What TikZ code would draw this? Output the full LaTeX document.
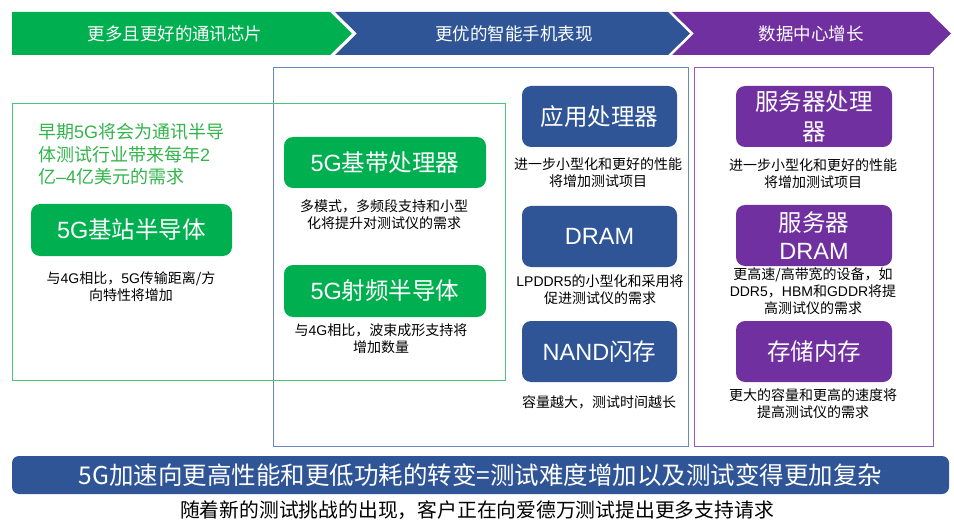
\documentclass[tikz,border=0pt]{standalone}
\usepackage{fontspec}
\setmainfont{Noto Sans CJK SC}
\newfontfamily\latfont{Liberation Sans}
\newcommand{\lt}[1]{{\latfont #1}}
\definecolor{gfill}{RGB}{0,176,80}
\definecolor{bfill}{RGB}{47,85,151}
\definecolor{pfill}{RGB}{112,48,160}
\definecolor{gline}{RGB}{70,200,120}
\definecolor{bline}{RGB}{105,135,195}
\definecolor{pline}{RGB}{145,90,195}
\definecolor{gtext}{RGB}{50,180,75}
\tikzset{
  banner/.style={fill=#1, draw=none},
  bannertext/.style={text=white, font=\fontsize{17.5}{20}\selectfont, inner sep=0pt},
  tile/.style={fill=#1, draw=none, rounded corners=9pt, text=white, minimum width=156pt, inner sep=0pt, align=center, font=\fontsize{23.5}{30}\selectfont},
  note/.style={text=black, align=center, inner sep=0pt, font=\fontsize{14}{17}\selectfont},
  frame/.style={draw=#1, line width=0.8pt},
}
\begin{document}
\begin{tikzpicture}[x=1pt,y=-1pt]
\useasboundingbox (0,0) rectangle (954,524);
% top chevrons
\path[banner=gfill] (12,12) -- (330,12) -- (352,33.5) -- (330,55) -- (12,55) -- cycle;
\path[banner=bfill] (335,12) -- (668,12) -- (690,33.5) -- (668,55) -- (335,55) -- (357,33.5) -- cycle;
\path[banner=pfill] (672,12) -- (929,12) -- (951,33.5) -- (929,55) -- (672,55) -- (694,33.5) -- cycle;
\node[bannertext] (h1) at (175,33.5) {更多且更好的通讯芯片};
\node[bannertext] (h2) at (514,33.5) {更优的智能手机表现};
\node[bannertext] (h3) at (811,33.5) {数据中心增长};
% frames
\draw[frame=bline] (273,67) rectangle (688,446);
\draw[frame=pline] (694,67) rectangle (933,446);
\draw[frame=gline] (12,103) rectangle (505,380);
% green column
\node[anchor=west, align=left, inner sep=0pt, text=gtext, font=\fontsize{18}{22.5}\selectfont] (gt) at (38,154.5) {早期\lt{5G}将会为通讯半导\\体测试行业带来每年\lt{2}\\亿\lt{–4}亿美元的需求};
\node[tile=gfill, minimum width=201pt, minimum height=52pt] (g1) at (131.5,230) {\lt{5G}基站半导体};
\node[note] (g1n) at (131,287) {与\lt{4G}相比，\lt{5G}传输距离/方\\向特性将增加};
\node[tile=gfill, minimum width=202pt, minimum height=51pt] (g2) at (385,162.5) {\lt{5G}基带处理器};
\node[note] (g2n) at (384,214.5) {多模式，多频段支持和小型\\化将提升对测试仪的需求};
\node[tile=gfill, minimum width=202pt, minimum height=52pt] (g3) at (385,291) {\lt{5G}射频半导体};
\node[note] (g3n) at (381,338.5) {与\lt{4G}相比，波束成形支持将\\增加数量};
% blue column
\node[tile=bfill, minimum width=155pt, minimum height=61pt] (b1) at (599.5,116.5) {应用处理器};
\node[note] (b1n) at (598,172.5) {进一步小型化和更好的性能\\将增加测试项目};
\node[tile=bfill, minimum width=155pt, minimum height=61pt] (b2) at (599.5,236.5) {\lt{DRAM}};
\node[note] (b2n) at (600,289.5) {\lt{LPDDR5}的小型化和采用将\\促进测试仪的需求};
\node[tile=bfill, minimum width=155pt, minimum height=61pt] (b3) at (599.5,351.5) {\lt{NAND}闪存};
\node[note] (b3n) at (599,402) {容量越大，测试时间越长};
% purple column
\node[tile=pfill, minimum width=156pt, minimum height=61pt] (p1) at (814,116.5) {服务器处理\\器};
\node[note] (p1n) at (813,173.5) {进一步小型化和更好的性能\\将增加测试项目};
\node[tile=pfill, minimum width=156pt, minimum height=61pt, font=\fontsize{23.5}{28}\selectfont] (p2) at (814,235.5) {服务器\\\lt{DRAM}};
\node[note] (p2n) at (813,291.5) {更高速/高带宽的设备，如\\\lt{DDR5}，\lt{HBM}和\lt{GDDR}将提\\高测试仪的需求};
\node[tile=pfill, minimum width=156pt, minimum height=61pt] (p3) at (814,351.5) {存储内存};
\node[note] (p3n) at (813,403.5) {更大的容量和更高的速度将\\提高测试仪的需求};
% bottom
\node[fill=bfill, rounded corners=7pt, minimum width=937pt, minimum height=38pt, inner sep=0pt, text=white, font=\fontsize{24.5}{28}\selectfont] (bot) at (480.5,475) {5G加速向更高性能和更低功耗的转变=测试难度增加以及测试变得更加复杂};
\node[inner sep=0pt, font=\fontsize{19.8}{24}\selectfont] (foot) at (477,510) {随着新的测试挑战的出现，客户正在向爱德万测试提出更多支持请求};
\end{tikzpicture}
\end{document}
